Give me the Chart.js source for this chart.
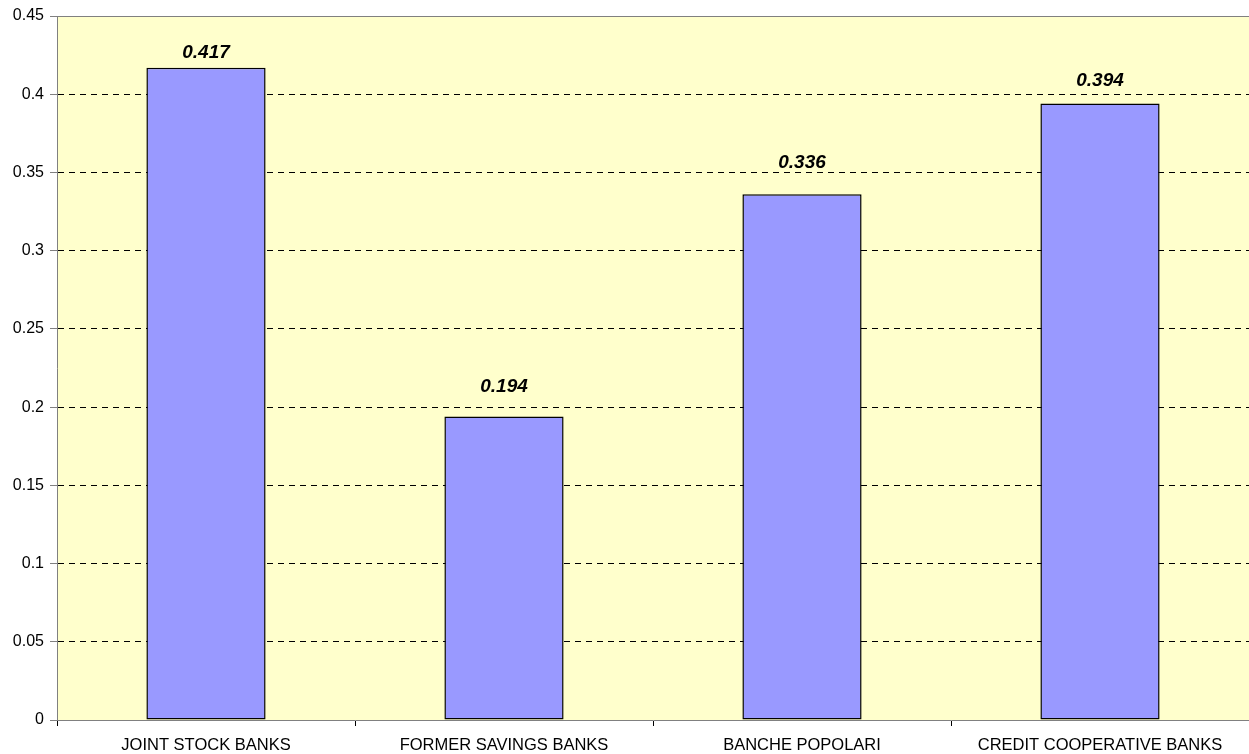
<!DOCTYPE html>
<html>
<head>
<meta charset="utf-8">
<script src="https://cdn.jsdelivr.net/npm/chart.js@4/dist/chart.umd.min.js"></script>
<style>
  html, body { margin: 0; padding: 0; background: #fff; }
  #wrap { width: 1249px; height: 754px; }
</style>
</head>
<body>
<div id="wrap"><canvas id="chart"></canvas></div>
<script>
const categories = ['JOINT STOCK BANKS', 'FORMER SAVINGS BANKS', 'BANCHE POPOLARI', 'CREDIT COOPERATIVE BANKS'];
const values = [0.417, 0.194, 0.336, 0.394];
const yTicks = [0, 0.05, 0.1, 0.15, 0.2, 0.25, 0.3, 0.35, 0.4, 0.45];

const fontFamily = "Arial, 'Liberation Sans', sans-serif";
// gap in px between each bar top and its value label (labels sit unevenly in the original)
const labelGaps = [10, 24, 26, 18];

const plotBackground = {
    id: 'plotBackground',
    beforeDraw(chart) {
        const {ctx, chartArea: a} = chart;
        ctx.save();
        ctx.fillStyle = '#FFFFCC';
        ctx.fillRect(a.left, a.top, a.right - a.left, a.bottom - a.top);
        ctx.restore();
    },
    afterDraw(chart) {
        const {ctx, chartArea: a} = chart;
        ctx.save();
        ctx.strokeStyle = '#808080';
        ctx.lineWidth = 1;
        ctx.beginPath();
        ctx.moveTo(a.left, a.top + 0.5);
        ctx.lineTo(a.right, a.top + 0.5);
        ctx.stroke();
        ctx.restore();
    }
};

const valueLabels = {
    id: 'valueLabels',
    afterDatasetsDraw(chart) {
        const ctx = chart.ctx;
        ctx.save();
        ctx.font = "italic bold 19px " + fontFamily;
        ctx.fillStyle = '#000';
        ctx.textAlign = 'center';
        ctx.textBaseline = 'alphabetic';
        chart.getDatasetMeta(0).data.forEach((bar, i) => {
            ctx.fillText(values[i].toFixed(3), bar.x, bar.y - labelGaps[i]);
        });
        ctx.restore();
    }
};

new Chart(document.getElementById('chart'), {
    type: 'bar',
    data: {
        labels: categories,
        datasets: [{
            data: values,
            backgroundColor: '#9999FF',
            borderColor: '#000',
            borderWidth: 1.5,
            borderSkipped: false,
            barPercentage: 0.4,
            categoryPercentage: 1
        }]
    },
    options: {
        responsive: true,
        maintainAspectRatio: false,
        animation: false,
        layout: { padding: { top: 16, right: 0, left: 0, bottom: 0 } },
        plugins: {
            legend: { display: false },
            tooltip: { enabled: false }
        },
        scales: {
            x: {
                grid: {
                    offset: true,
                    drawOnChartArea: false,
                    drawTicks: true,
                    tickLength: 6,
                    tickColor: '#000'
                },
                border: { color: '#808080', width: 1 },
                ticks: {
                    color: '#000',
                    font: { family: fontFamily, size: 16.5 },
                    padding: 10,
                    maxRotation: 0,
                    autoSkip: false
                },
                afterFit(scale) { scale.height = 34; }
            },
            y: {
                min: 0,
                max: 0.45,
                afterBuildTicks(scale) {
                    scale.ticks = yTicks.map(v => ({ value: v }));
                },
                grid: {
                    color: c => (c.tick && (c.tick.value === 0 || c.tick.value >= 0.45)) ? 'rgba(0,0,0,0)' : '#000',
                    tickColor: '#808080',
                    tickLength: 7,
                    tickBorderDash: []
                },
                border: { color: '#808080', width: 1, dash: [6, 5] },
                ticks: {
                    color: '#000',
                    font: { family: fontFamily, size: 16 },
                    padding: 6,
                    callback: v => String(+v.toFixed(2))
                },
                afterFit(scale) { scale.width = 57; }
            }
        }
    },
    plugins: [plotBackground, valueLabels]
});
</script>
</body>
</html>
